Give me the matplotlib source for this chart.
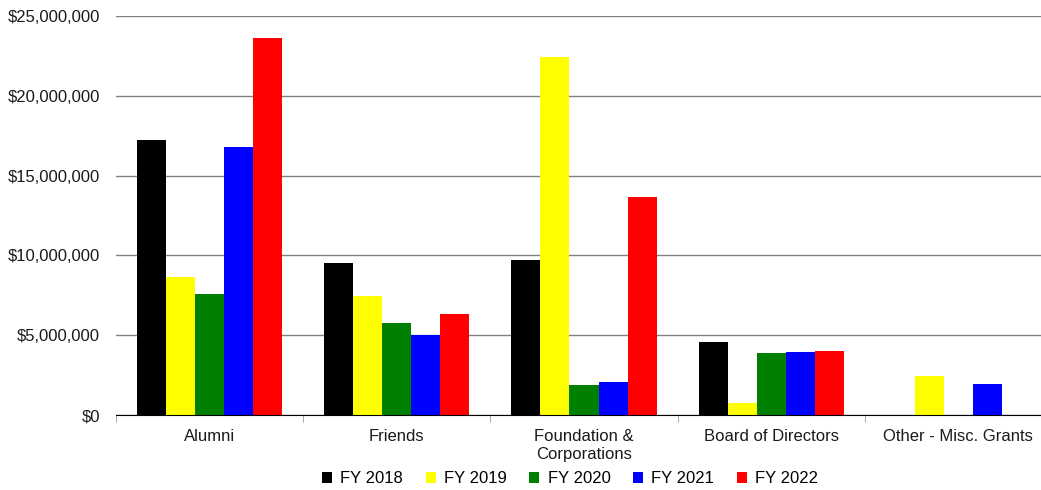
import numpy as np
import matplotlib.pyplot as plt
from matplotlib.ticker import FuncFormatter

plt.rcParams['font.family'] = ['Liberation Sans', 'DejaVu Sans']

categories = ['Alumni', 'Friends', 'Foundation &\nCorporations', 'Board of Directors', 'Other - Misc. Grants']
series = ['FY 2018', 'FY 2019', 'FY 2020', 'FY 2021', 'FY 2022']
colors = ['#000000', '#ffff00', '#008000', '#0000ff', '#ff0000']

fy2018 = [17.2e6, 9.52e6, 9.72e6, 4.57e6, 0]
fy2019 = [8.65e6, 7.46e6, 22.43e6, 0.75e6, 2.45e6]
fy2020 = [7.58e6, 5.77e6, 1.88e6, 3.88e6, 0]
fy2021 = [16.8e6, 5.01e6, 2.07e6, 3.95e6, 1.94e6]
fy2022 = [23.6e6, 6.33e6, 13.66e6, 4.01e6, 0]
values = [fy2018, fy2019, fy2020, fy2021, fy2022]

fig = plt.figure(figsize=(10.41, 4.9), dpi=100)
ax = fig.add_axes([116/1041, 75/490, 936/1041, 399/490])

x = np.arange(len(categories))
w = 0.155
for i, (name, vals) in enumerate(zip(series, values)):
    ax.bar(x + (i - 2) * w, vals, width=w, color=colors[i], label=name, zorder=3)

ax.set_xlim(-0.5, len(categories) - 0.5)
ax.set_ylim(0, 25e6)
ax.set_yticks(np.arange(0, 25e6 + 1, 5e6))
ax.yaxis.set_major_formatter(FuncFormatter(lambda v, p: '${:,.0f}'.format(v)))
ax.grid(axis='y', color='#808080', linewidth=1, zorder=0)
ax.set_xticks(x)
ax.set_xticklabels(categories, linespacing=1.25)
ax.set_xticks(np.arange(-0.5, len(categories)), minor=True)
ax.tick_params(axis='x', which='major', length=0, pad=10, labelsize=12, colors='#1a1a1a')
ax.tick_params(axis='x', which='minor', length=5, color='#999999')
ax.tick_params(axis='y', length=0, pad=11.5, labelsize=12, colors='#1a1a1a')
for s in ['top', 'right', 'left']:
    ax.spines[s].set_visible(False)
ax.spines['bottom'].set_color('#000000')
ax.spines['bottom'].set_zorder(4)

ax.legend(loc='upper center', bbox_to_anchor=(454/936, -0.112), ncol=5, frameon=False,
          fontsize=12, handlelength=0.6, handleheight=0.6, handletextpad=0.5,
          columnspacing=1.35, borderpad=0.2)

fig.savefig('out.png', dpi=100)
